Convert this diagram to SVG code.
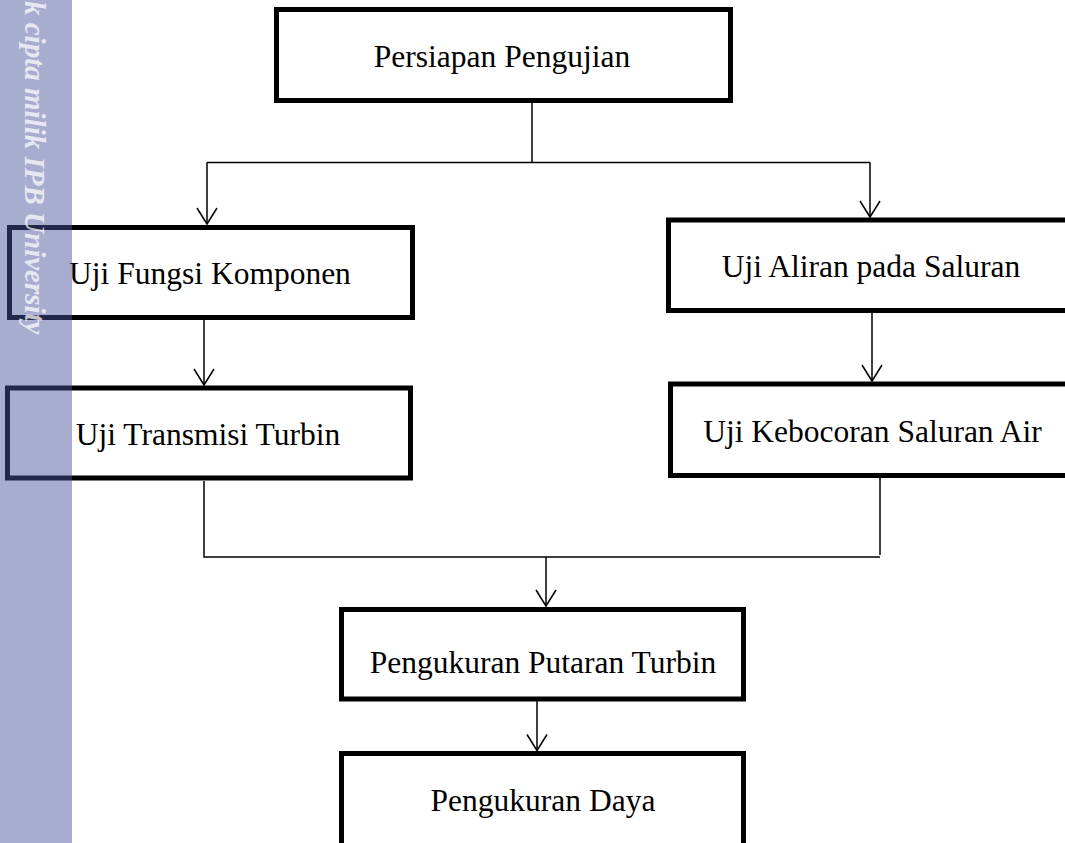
<svg xmlns="http://www.w3.org/2000/svg" width="1065" height="843" viewBox="0 0 1065 843">
  <style>
    .box { fill: #ffffff; stroke: #000000; stroke-width: 5; }
    .lbl { font-family: "Liberation Serif", "Times New Roman", serif; font-size: 31.5px; fill: #000000; text-anchor: middle; }
    .con { fill: none; stroke: #000000; stroke-width: 1.5; }
    .wm { font-family: "Liberation Serif", "Times New Roman", serif; font-size: 29px; font-style: italic; font-weight: bold; fill: #ffffff; fill-opacity: 0.72; }
  </style>
  <defs>
    <marker id="arrow" markerUnits="userSpaceOnUse" markerWidth="20" markerHeight="24" refX="0" refY="0" orient="auto" overflow="visible">
      <path d="M -16 -10 L 0 0 L -16 10" fill="none" stroke="#000000" stroke-width="1.5"/>
    </marker>
  </defs>
  <rect x="0" y="0" width="1065" height="843" fill="#ffffff"/>

  <g id="connectors">
    <path class="con" d="M 532 103 L 532 162.5"/>
    <path class="con" d="M 207 162.5 L 870 162.5"/>
    <path class="con" d="M 207 162.5 L 207 224" marker-end="url(#arrow)"/>
    <path class="con" d="M 870 162.5 L 870 217" marker-end="url(#arrow)"/>
    <path class="con" d="M 204 320 L 204 385" marker-end="url(#arrow)"/>
    <path class="con" d="M 872 313 L 872 381" marker-end="url(#arrow)"/>
    <path class="con" d="M 204 481 L 204 557 L 880 557"/>
    <path class="con" d="M 880 478 L 880 555"/>
    <path class="con" d="M 546 557 L 546 606" marker-end="url(#arrow)"/>
    <path class="con" d="M 537 701 L 537 750.5" marker-end="url(#arrow)"/>
  </g>

  <g id="node-persiapan">
    <rect class="box" x="276.5" y="9.5" width="454" height="91"/>
    <text class="lbl" x="502" y="67">Persiapan Pengujian</text>
  </g>
  <g id="node-fungsi">
    <rect class="box" x="9.5" y="227.5" width="403" height="90"/>
    <text class="lbl" x="210" y="284">Uji Fungsi Komponen</text>
  </g>
  <g id="node-transmisi">
    <rect class="box" x="7.5" y="388" width="403" height="90"/>
    <text class="lbl" x="208" y="445">Uji Transmisi Turbin</text>
  </g>
  <g id="node-aliran">
    <rect class="box" x="668.5" y="220" width="406" height="90.5"/>
    <text class="lbl" x="871" y="277">Uji Aliran pada Saluran</text>
  </g>
  <g id="node-kebocoran">
    <rect class="box" x="670.5" y="384" width="406" height="91.5"/>
    <text class="lbl" x="872.5" y="442">Uji Kebocoran Saluran Air</text>
  </g>
  <g id="node-putaran">
    <rect class="box" x="341.5" y="609.5" width="402" height="89.5"/>
    <text class="lbl" x="543" y="673">Pengukuran Putaran Turbin</text>
  </g>
  <g id="node-daya">
    <rect class="box" x="341.5" y="753.5" width="402" height="96"/>
    <text class="lbl" x="543" y="811">Pengukuran Daya</text>
  </g>

  <g id="watermark">
    <rect x="0" y="0" width="72" height="843" fill="#49539a" fill-opacity="0.48"/>
    <text class="wm" transform="translate(25,1) rotate(90)" x="0" y="0">k cipta milik IPB University</text>
  </g>
</svg>
